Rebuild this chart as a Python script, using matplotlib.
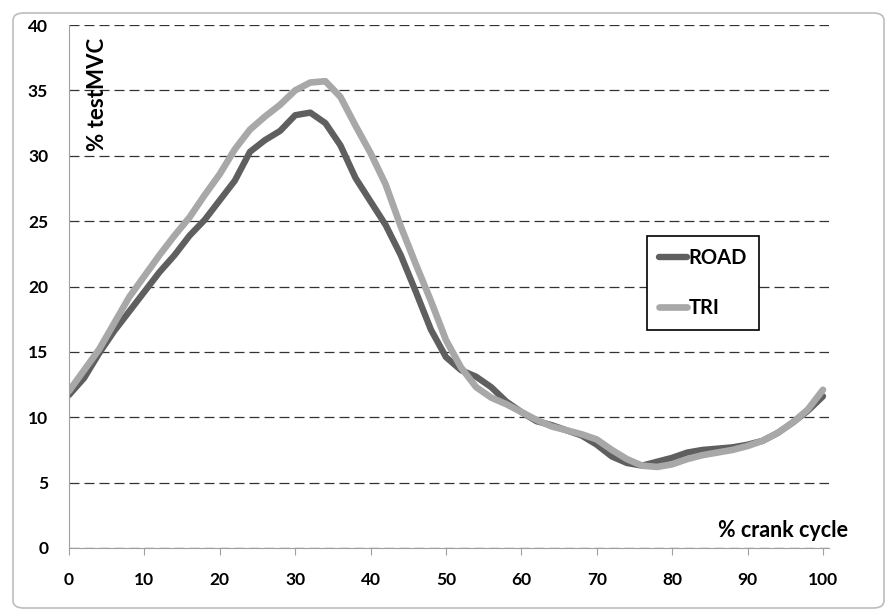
import matplotlib.pyplot as plt
from matplotlib.patches import FancyBboxPatch

# % crank cycle
crank = list(range(0, 101, 2))

road = [11.7, 13.0, 14.9, 16.6, 18.1, 19.6, 21.1, 22.4, 23.9, 25.1,
        26.6, 28.1, 30.3, 31.2, 31.9, 33.1, 33.3, 32.5, 30.8, 28.3,
        26.5, 24.7, 22.4, 19.6, 16.7, 14.6, 13.6, 13.1, 12.3, 11.2,
        10.4, 9.7, 9.4, 9.0, 8.6, 7.9, 7.0, 6.5, 6.3, 6.6,
        6.9, 7.3, 7.5, 7.6, 7.7, 7.9, 8.2, 8.8, 9.6, 10.5,
        11.6]

tri = [12.0, 13.6, 15.2, 17.2, 19.2, 20.8, 22.4, 23.9, 25.3, 27.0,
       28.6, 30.5, 32.0, 33.0, 33.9, 35.0, 35.6, 35.7, 34.5, 32.3,
       30.2, 27.8, 24.6, 21.7, 18.9, 15.9, 13.8, 12.3, 11.5, 11.0,
       10.4, 9.8, 9.3, 9.0, 8.7, 8.3, 7.5, 6.8, 6.3, 6.2,
       6.4, 6.8, 7.1, 7.3, 7.5, 7.8, 8.2, 8.8, 9.6, 10.6,
       12.1]

xticks = list(range(0, 101, 10))
yticks = list(range(0, 41, 5))

plt.rcParams['font.family'] = ['Lato', 'DejaVu Sans']

fig = plt.figure(figsize=(8.93, 6.11), dpi=100)
fig.patches.append(FancyBboxPatch((13 / 893, 3 / 611), 871 / 893, 595 / 611,
                                  boxstyle="round,pad=0,rounding_size=0.012",
                                  transform=fig.transFigure, fill=False,
                                  edgecolor='#bdbdbd', linewidth=1.2))
ax = fig.add_axes([69 / 893, 63 / 611, 760 / 893, 523 / 611])

ax.plot(crank, road, color='#5f5f5f', lw=4.6, solid_capstyle='round', label='ROAD')
ax.plot(crank, tri, color='#a8a8a8', lw=4.8, solid_capstyle='round', label='TRI')

ax.set_xlim(0, 100.8)
ax.set_ylim(0, 40)
ax.set_xticks(xticks)
ax.set_yticks(yticks)
ax.yaxis.grid(True, linestyle=(0, (8, 4)), color='#333333', linewidth=0.9)
ax.set_axisbelow(True)

for s in ['top', 'right']:
    ax.spines[s].set_visible(False)
ax.spines['left'].set_color('#a0a0a0')
ax.spines['bottom'].set_color('#a0a0a0')
ax.tick_params(axis='y', length=0, pad=15, labelsize=12.5)
ax.tick_params(axis='x', length=5, direction='out', color='#a0a0a0', pad=12, labelsize=12.5)
for lbl in ax.get_xticklabels() + ax.get_yticklabels():
    lbl.set_fontweight('bold')

ax.text(0.038, 0.868, '% testMVC', transform=ax.transAxes, rotation=90,
        ha='center', va='center', fontsize=16, fontweight='bold')
ax.text(0.939, 0.034, '% crank cycle', transform=ax.transAxes,
        ha='center', va='center', fontsize=15.5, fontweight='bold')

leg = ax.legend(loc='upper left', bbox_to_anchor=(0.7605, 0.5966), borderaxespad=0,
                fancybox=False, edgecolor='black', framealpha=1,
                prop={'weight': 'bold', 'size': 14.5}, handlelength=1.4,
                handletextpad=0.05, labelspacing=1.5, borderpad=0.6)
leg.get_frame().set_linewidth(1.2)

fig.savefig('out.png', dpi=100)
